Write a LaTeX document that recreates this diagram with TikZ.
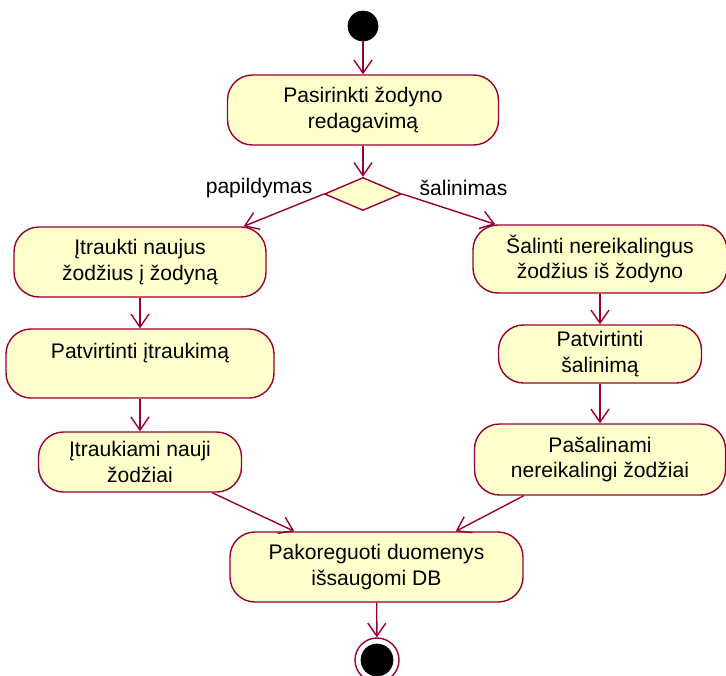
\documentclass[tikz,border=0pt]{standalone}
\usepackage{fontspec}
\setmainfont{Liberation Sans}
\usetikzlibrary{shapes.geometric, arrows.meta, positioning}

\definecolor{umlline}{RGB}{153,0,51}
\definecolor{umlfill}{RGB}{255,255,204}

\begin{document}
\begin{tikzpicture}[
    activity/.style={
        rectangle,
        rounded corners=0.5cm,
        draw=umlline,
        fill=umlfill,
        line width=0.8pt,
        align=center,
        inner sep=2pt,
        font=\fontsize{12}{14.7}\selectfont
    },
    decision/.style={
        diamond,
        draw=umlline,
        fill=umlfill,
        line width=0.8pt,
        minimum width=1.54cm,
        minimum height=0.66cm,
        inner sep=0pt
    },
    initial/.style={
        circle,
        draw=black,
        fill=black,
        minimum size=0.6cm,
        inner sep=0pt
    },
    final/.style={
        circle,
        draw=umlline,
        fill=white,
        line width=0.8pt,
        minimum size=0.88cm,
        inner sep=0pt
    },
    flow/.style={
        ->,
        >={Straight Barb[length=2.6mm,width=3.6mm]},
        draw=umlline,
        line width=0.8pt
    },
    guard/.style={
        font=\fontsize{12}{14}\selectfont,
        inner sep=0pt
    }
]
\useasboundingbox (0,0) rectangle (14.52,-13.5);

% start and first choice
\node[initial] (start) at (7.26,-0.52) {};
\node[activity, minimum width=5.42cm, minimum height=1.4cm] (choose) at (7.26,-2.2) {
    Pasirinkti žodyno \\
    redagavimą
};
\node[decision] (dec) at (7.26,-3.88) {};

% guards on the decision
\node[guard, left=0.22cm of dec.west, yshift=0.12cm] (lbl-add) {papildymas};
\node[guard, right=0.34cm of dec.east, yshift=0.12cm] (lbl-del) {šalinimas};

% left branch: adding words
\node[activity, minimum width=5.04cm, minimum height=1.4cm] (addwords) at (2.8,-5.24) {
    Įtraukti naujus \\
    žodžius į žodyną
};
\node[activity, minimum width=5.36cm, minimum height=1.38cm] (addconfirm) at (2.8,-7.27) {
    Patvirtinti įtraukimą \\
    \mbox{}
};
\node[activity, minimum width=4.06cm, minimum height=1.2cm] (added) at (2.8,-9.24) {
    Įtraukiami nauji \\
    žodžiai
};

% right branch: removing words
\node[activity, minimum width=5.08cm, minimum height=1.36cm] (delwords) at (12.0,-5.18) {
    Šalinti nereikalingus \\
    žodžius iš žodyno
};
\node[activity, minimum width=4.06cm, minimum height=1.16cm] (delconfirm) at (12.0,-7.08) {
    Patvirtinti \\
    šalinimą
};
\node[activity, minimum width=5.02cm, minimum height=1.42cm] (deleted) at (12.0,-9.19) {
    Pašalinami \\
    nereikalingi žodžiai
};

% merge and end
\node[activity, minimum width=5.86cm, minimum height=1.4cm] (save) at (7.53,-11.34) {
    Pakoreguoti duomenys \\
    išsaugomi DB
};
\node[final] (stop) at (7.54,-13.2) {};
\node[initial, minimum size=0.64cm] (stop-dot) at (stop.center) {};

% transitions
\draw[flow] (start) -- (choose);
\draw[flow] (choose) -- (dec);
\draw[flow] (dec.west) -- ([xshift=-0.46cm]addwords.north east);
\draw[flow] (dec.east) -- ([xshift=0.46cm]delwords.north west);
\draw[flow] (addwords) -- (addconfirm);
\draw[flow] (addconfirm) -- (added);
\draw[flow] (delwords) -- (delconfirm);
\draw[flow] (delconfirm) -- (deleted);
\draw[flow] ([xshift=-0.6cm]added.south east) -- ([xshift=1.3cm]save.north west);
\draw[flow] ([xshift=1.0cm]deleted.south west) -- ([xshift=-1.36cm]save.north east);
\draw[flow] (save) -- (stop);

\end{tikzpicture}
\end{document}
